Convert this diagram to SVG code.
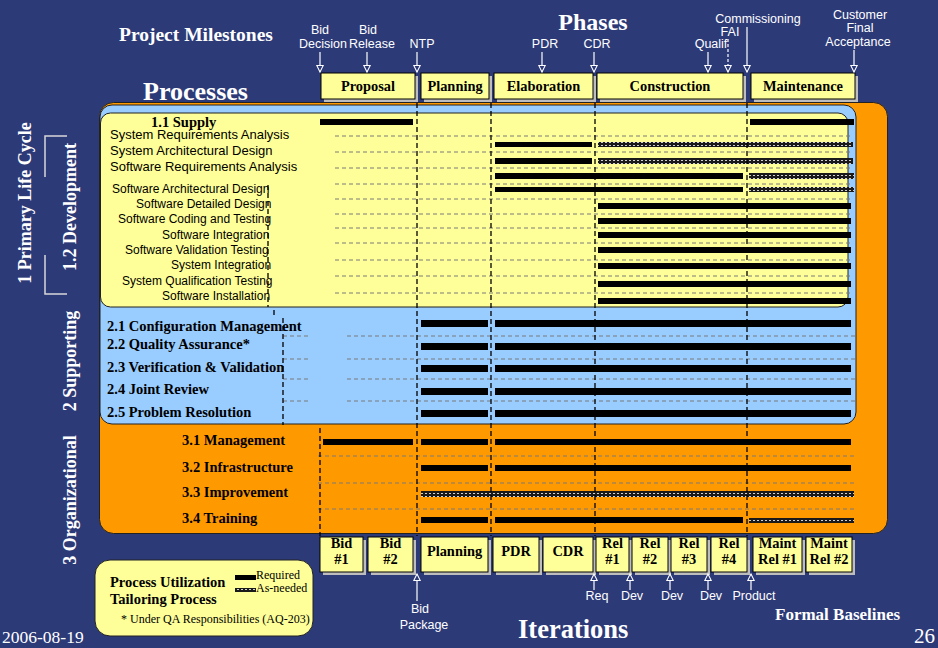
<svg xmlns="http://www.w3.org/2000/svg" width="938" height="648" viewBox="0 0 938 648">
<style>
text{font-family:"Liberation Serif","Times New Roman",serif}
.ms{font-family:"Liberation Sans",Arial,sans-serif;font-size:12.5px;fill:#fff;text-anchor:middle}
.tw{font-weight:bold;fill:#fff}
.box{fill:#FFFF99;stroke:#000;stroke-width:1}
.shd{fill:#BDBDBD}
.bt{font-weight:bold;font-size:14.4px;text-anchor:middle;fill:#000}
.req{fill:#000}
.opt{fill:url(#hatch)}
.sep{stroke:#7a7a7a;stroke-width:1;stroke-dasharray:4 3;fill:none}
.vd{stroke:#000;stroke-width:1.3;stroke-dasharray:5 3;fill:none}
.arr{stroke:#fff;stroke-width:1.2;fill:none;marker-end:url(#ah)}
.row{font-weight:bold;font-size:14.5px;fill:#000}
.act{font-family:"Liberation Sans",Arial,sans-serif;font-size:13px;fill:#000}
.act2{font-family:"Liberation Sans",Arial,sans-serif;font-size:12px;fill:#000}
.vert{font-weight:bold;font-size:18px;fill:#fff;text-anchor:middle}
.brk{stroke:#d8d8d8;stroke-width:1.5;fill:none}
</style>
<defs>
<pattern id="hatch" width="4" height="3" patternUnits="userSpaceOnUse">
<rect width="4" height="3" fill="#1a1a1a"/>
<rect x="1" y="1" width="2" height="1" fill="#d0d0d0"/>
</pattern>
<marker id="ah" viewBox="0 0 10 10" refX="9" refY="5" markerWidth="8" markerHeight="8" markerUnits="userSpaceOnUse" orient="auto" overflow="visible">
<path d="M1,1 L9,5 L1,9 z" fill="#2D3A78" stroke="#fff" stroke-width="1.3"/>
</marker>
</defs>
<rect width="938" height="648" fill="#2D3A78"/>

<!-- titles -->
<g id="titles">
<text x="119" y="41" class="tw" font-size="19.5">Project Milestones</text>
<text x="593" y="30" class="tw" font-size="24" text-anchor="middle">Phases</text>
<text x="143" y="100" class="tw" font-size="26">Processes</text>
<text x="518" y="638" class="tw" font-size="26.5">Iterations</text>
<text x="775" y="620" class="tw" font-size="17">Formal Baselines</text>
<text x="2" y="643" fill="#fff" font-size="17.5">2006-08-19</text>
<text x="914" y="643" fill="#fff" font-size="21">26</text>
</g>

<!-- milestone labels -->
<g id="milestones">
<text class="ms" x="320" y="34">Bid</text><text class="ms" x="323" y="48">Decision</text>
<text class="ms" x="368" y="34">Bid</text><text class="ms" x="372" y="48">Release</text>
<text class="ms" x="422" y="48">NTP</text>
<text class="ms" x="545" y="48">PDR</text>
<text class="ms" x="597" y="48">CDR</text>
<text class="ms" x="711" y="48">Qualif</text>
<text class="ms" x="730" y="36">FAI</text>
<text class="ms" x="758" y="23">Commissioning</text>
<text class="ms" x="860" y="19">Customer</text>
<text class="ms" x="860" y="32">Final</text>
<text class="ms" x="858" y="46">Acceptance</text>
</g>

<!-- phase boxes -->
<g id="phase-proposal"><rect class="shd" x="324" y="76" width="94" height="26"/><rect class="box" x="321" y="73" width="94" height="26"/><text class="bt" x="368" y="91">Proposal</text></g>
<g id="phase-planning"><rect class="shd" x="424" y="76" width="68" height="26"/><rect class="box" x="421" y="73" width="68" height="26"/><text class="bt" x="455" y="91">Planning</text></g>
<g id="phase-elaboration"><rect class="shd" x="497" y="76" width="99" height="26"/><rect class="box" x="494" y="73" width="99" height="26"/><text class="bt" x="543.5" y="91">Elaboration</text></g>
<g id="phase-construction"><rect class="shd" x="600" y="76" width="146" height="26"/><rect class="box" x="597" y="73" width="146" height="26"/><text class="bt" x="670" y="91">Construction</text></g>
<g id="phase-maintenance"><rect class="shd" x="754" y="76" width="104" height="26"/><rect class="box" x="751" y="73" width="104" height="26"/><text class="bt" x="803" y="91">Maintenance</text></g>

<!-- process areas -->
<g id="area-organizational"><rect x="99.5" y="102.5" width="788" height="431" rx="14" fill="#FF9900" stroke="#222" stroke-width="1"/></g>
<g id="area-supporting"><rect x="100" y="105" width="756" height="319" rx="12" fill="#99CCFF" stroke="#222" stroke-width="1"/></g>
<g id="area-development"><rect x="100.5" y="113" width="747.5" height="194" rx="10" fill="#FFFF99" stroke="#222" stroke-width="1"/></g>

<!-- left labels -->
<g id="side-labels">
<text class="vert" transform="translate(31,203) rotate(-90)">1 Primary Life Cycle</text>
<text class="vert" transform="translate(76,207) rotate(-90)">1.2 Development</text>
<text class="vert" transform="translate(76,361) rotate(-90)">2 Supporting</text>
<text class="vert" transform="translate(76,500) rotate(-90)">3 Organizational</text>
<polyline class="brk" points="67,136 45,136 45,177"/>
<polyline class="brk" points="45,255 45,294 67,294"/>
</g>

<!-- separators -->
<g id="separators">
<path class="sep" d="M335,136H850M335,152H850M335,168H850M335,184H850M335,199H850M335,214H850M335,228H850M335,243H850M335,260H850M335,276H850M335,293H850"/>
<path class="sep" d="M283,336H308M347,336H855M283,359H308M347,359H855M283,379H308M347,379H855M283,401H308M347,401H855"/>
<path class="sep" d="M318,456H855M318,483H855M318,509H855"/>
</g>

<!-- development rows -->
<g id="row-1-1"><text class="row" x="151" y="127">1.1 Supply</text><rect class="req" x="320" y="119" width="93" height="6"/><rect class="req" x="750" y="119" width="104" height="6"/></g>
<g id="row-sra"><text class="act" x="110" y="139">System Requirements Analysis</text><rect class="req" x="495" y="142" width="97" height="5"/><rect class="opt" x="598" y="142" width="255" height="5"/></g>
<g id="row-sad"><text class="act" x="110" y="155">System Architectural Design</text><rect class="req" x="495" y="158" width="97" height="6"/><rect class="opt" x="598" y="158" width="255" height="6"/></g>
<g id="row-swra"><text class="act" x="110" y="171">Software Requirements Analysis</text><rect class="req" x="495" y="173" width="248" height="6"/><rect class="opt" x="749" y="173" width="105" height="6"/></g>
<g id="row-swad"><text class="act2" x="112" y="193">Software Architectural Design</text><rect class="req" x="495" y="187" width="248" height="5"/><rect class="opt" x="749" y="187" width="105" height="5"/></g>
<g id="row-swdd"><text class="act2" x="136" y="208">Software Detailed Design</text><rect class="req" x="598" y="203" width="253" height="6"/></g>
<g id="row-swct"><text class="act2" x="118" y="223">Software Coding and Testing</text><rect class="req" x="598" y="218" width="253" height="6"/></g>
<g id="row-swi"><text class="act2" x="162" y="239">Software Integration</text><rect class="req" x="598" y="232" width="253" height="6"/></g>
<g id="row-swvt"><text class="act2" x="125" y="254">Software Validation Testing</text><rect class="req" x="598" y="247" width="253" height="6"/></g>
<g id="row-sysi"><text class="act2" x="171" y="269">System Integration</text><rect class="req" x="598" y="263" width="253" height="6"/></g>
<g id="row-sysqt"><text class="act2" x="122" y="285">System Qualification Testing</text><rect class="req" x="598" y="281" width="253" height="6"/></g>
<g id="row-swinst"><text class="act2" x="162" y="300">Software Installation</text><rect class="req" x="598" y="298" width="253" height="6"/></g>

<!-- supporting rows -->
<g id="row-2-1"><text class="row" x="107" y="331">2.1 Configuration Management</text><rect class="req" x="421" y="320" width="67" height="7"/><rect class="req" x="495" y="320" width="356" height="7"/></g>
<g id="row-2-2"><text class="row" x="107" y="349">2.2 Quality Assurance*</text><rect class="req" x="421" y="343" width="67" height="7"/><rect class="req" x="495" y="343" width="356" height="7"/></g>
<g id="row-2-3"><text class="row" x="107" y="372">2.3 Verification &amp; Validation</text><rect class="req" x="421" y="365" width="67" height="7"/><rect class="req" x="495" y="365" width="356" height="7"/></g>
<g id="row-2-4"><text class="row" x="107" y="394">2.4 Joint Review</text><rect class="req" x="421" y="388" width="67" height="7"/><rect class="req" x="495" y="388" width="356" height="7"/></g>
<g id="row-2-5"><text class="row" x="107" y="417">2.5 Problem Resolution</text><rect class="req" x="421" y="410" width="67" height="7"/><rect class="req" x="495" y="410" width="356" height="7"/></g>

<!-- organizational rows -->
<g id="row-3-1"><text class="row" x="182" y="445">3.1 Management</text><rect class="req" x="323" y="439" width="90" height="6"/><rect class="req" x="421" y="439" width="67" height="6"/><rect class="req" x="495" y="439" width="356" height="6"/></g>
<g id="row-3-2"><text class="row" x="182" y="472">3.2 Infrastructure</text><rect class="req" x="421" y="465" width="67" height="6"/><rect class="req" x="495" y="465" width="356" height="6"/></g>
<g id="row-3-3"><text class="row" x="182" y="497">3.3 Improvement</text><rect class="opt" x="421" y="491" width="433" height="6"/></g>
<g id="row-3-4"><text class="row" x="182" y="523">3.4 Training</text><rect class="req" x="421" y="517" width="67" height="6"/><rect class="req" x="495" y="517" width="248" height="6"/><rect class="opt" x="749" y="518" width="105" height="5"/></g>

<!-- iteration boxes -->
<g id="it-bid1"><rect class="shd" x="323" y="540" width="43" height="35"/><rect class="box" x="320" y="537" width="43" height="35"/><text class="bt" x="341.5" y="548">Bid</text><text class="bt" x="341.5" y="564">#1</text></g>
<g id="it-bid2"><rect class="shd" x="371" y="540" width="45" height="35"/><rect class="box" x="368" y="537" width="45" height="35"/><text class="bt" x="390.5" y="548">Bid</text><text class="bt" x="390.5" y="564">#2</text></g>
<g id="it-planning"><rect class="shd" x="424" y="540" width="67" height="35"/><rect class="box" x="421" y="537" width="67" height="35"/><text class="bt" x="454.5" y="556">Planning</text></g>
<g id="it-pdr"><rect class="shd" x="496" y="540" width="46" height="35"/><rect class="box" x="493" y="537" width="46" height="35"/><text class="bt" x="516" y="556">PDR</text></g>
<g id="it-cdr"><rect class="shd" x="546" y="540" width="50" height="35"/><rect class="box" x="543" y="537" width="50" height="35"/><text class="bt" x="568" y="556">CDR</text></g>
<g id="it-rel1"><rect class="shd" x="599" y="540" width="33" height="35"/><rect class="box" x="596" y="537" width="33" height="35"/><text class="bt" x="612.5" y="548">Rel</text><text class="bt" x="612.5" y="564">#1</text></g>
<g id="it-rel2"><rect class="shd" x="635" y="540" width="36" height="35"/><rect class="box" x="632" y="537" width="36" height="35"/><text class="bt" x="650" y="548">Rel</text><text class="bt" x="650" y="564">#2</text></g>
<g id="it-rel3"><rect class="shd" x="674" y="540" width="36" height="35"/><rect class="box" x="671" y="537" width="36" height="35"/><text class="bt" x="689" y="548">Rel</text><text class="bt" x="689" y="564">#3</text></g>
<g id="it-rel4"><rect class="shd" x="714" y="540" width="36" height="35"/><rect class="box" x="711" y="537" width="36" height="35"/><text class="bt" x="729" y="548">Rel</text><text class="bt" x="729" y="564">#4</text></g>
<g id="it-maint1"><rect class="shd" x="756" y="540" width="49" height="35"/><rect class="box" x="753" y="537" width="49" height="35"/><text class="bt" x="777.5" y="548">Maint</text><text class="bt" x="777.5" y="564">Rel #1</text></g>
<g id="it-maint2"><rect class="shd" x="809" y="540" width="46" height="35"/><rect class="box" x="806" y="537" width="46" height="35"/><text class="bt" x="829" y="548">Maint</text><text class="bt" x="829" y="564">Rel #2</text></g>

<!-- baseline labels -->
<g id="baselines">
<text class="ms" x="420" y="613">Bid</text><text class="ms" x="424" y="629">Package</text>
<text class="ms" x="597" y="600">Req</text>
<text class="ms" x="632" y="600">Dev</text>
<text class="ms" x="672" y="600">Dev</text>
<text class="ms" x="711" y="600">Dev</text>
<text class="ms" x="754" y="600">Product</text>
</g>

<!-- legend -->
<g id="legend">
<rect x="95" y="560" width="218" height="76" rx="15" fill="#FFFF99" stroke="#222" stroke-width="1"/>
<text class="row" x="110" y="587">Process Utilization</text>
<text class="row" x="110" y="604">Tailoring Process</text>
<rect class="req" x="235" y="575" width="21" height="5"/>
<text x="256" y="579" font-size="12" fill="#000">Required</text>
<rect class="opt" x="235" y="588" width="21" height="4"/>
<text x="256" y="592" font-size="12" fill="#000">As-needed</text>
<text x="121" y="623" font-size="12" fill="#000">* Under QA Responsibilities (AQ-203)</text>
</g>

<!-- connectors -->
<g id="connectors">
<path class="vd" d="M268,185V307M274,310V316M283,318V425M320,428V536M417,103V536M491,103V536M595,103V536M747,103V536"/>
<line class="arr" x1="320" y1="52" x2="320" y2="72"/>
<line class="arr" x1="367" y1="52" x2="367" y2="72"/>
<line class="arr" x1="417" y1="52" x2="417" y2="72"/>
<line class="arr" x1="542" y1="52" x2="542" y2="72"/>
<line class="arr" x1="594" y1="52" x2="594" y2="72"/>
<line class="arr" x1="708" y1="52" x2="708" y2="72"/>
<line class="arr" x1="728" y1="39" x2="728" y2="72" stroke-dasharray="3 2"/>
<line class="arr" x1="747" y1="27" x2="747" y2="72"/>
<line class="arr" x1="854" y1="50" x2="854" y2="72"/>
<line class="arr" x1="417" y1="601" x2="417" y2="574"/>
<line class="arr" x1="594" y1="590" x2="594" y2="574"/>
<line class="arr" x1="630" y1="590" x2="630" y2="574"/>
<line class="arr" x1="670" y1="590" x2="670" y2="574"/>
<line class="arr" x1="708" y1="590" x2="708" y2="574"/>
<line class="arr" x1="751" y1="590" x2="751" y2="574"/>
</g>
</svg>
